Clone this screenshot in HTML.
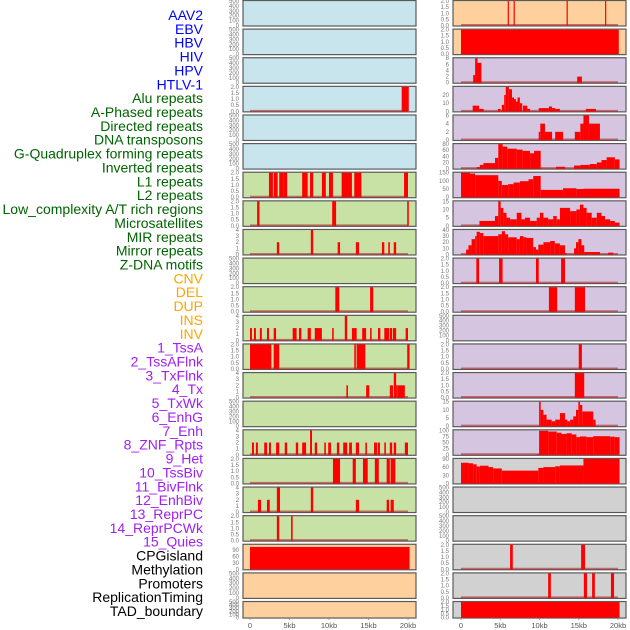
<!DOCTYPE html>
<html><head><meta charset="utf-8"><style>
html,body{margin:0;padding:0;background:#fff;width:630px;height:630px;overflow:hidden}
svg{display:block;font-family:"Liberation Sans",sans-serif}
</style></head><body>
<svg id="chart" width="630" height="630" viewBox="0 0 630 630" xmlns="http://www.w3.org/2000/svg"></svg>
<script>
// ---- labels ----
const labels=["AAV2","EBV","HBV","HIV","HPV","HTLV-1","Alu repeats","A-Phased repeats","Directed repeats","DNA transposons","G-Quadruplex forming repeats","Inverted repeats","L1 repeats","L2 repeats","Low_complexity A/T rich regions","Microsatellites","MIR repeats","Mirror repeats","Z-DNA motifs","CNV","DEL","DUP","INS","INV","1_TssA","2_TssAFlnk","3_TxFlnk","4_Tx","5_TxWk","6_EnhG","7_Enh","8_ZNF_Rpts","9_Het","10_TssBiv","11_BivFlnk","12_EnhBiv","13_ReprPC","14_ReprPCWk","15_Quies","CPGisland","Methylation","Promoters","ReplicationTiming","TAD_boundary"];
const labelGroups=[6,13,5,15,5];
const groupColors=["#0000ff","#006400","#ffa500","#a020f0","#000000"];
const xTicks=[0,5,10,15,20];
const xTickLabels=["0","5kb","10kb","15kb","20kb"];
// ---- left column tracks: [startKb,endKb,value] ----
const L0=[],L1=[],L2=[],L4=[],L5=[],L9=[],L14=[],L20=[],L21=[];
const L3=[[19.2,20.1,2]];
const L6=[[2.4,2.9,2],[3.0,3.5,2],[3.7,4.2,2],[4.2,4.7,2],[6.6,7.3,2],[7.6,8.0,2],[9.1,9.6,2],[10.0,10.5,2],[11.6,12.9,2],[13.2,14.1,2],[19.5,20.0,2]];
const L7=[[0.9,1.2,2],[10.4,10.9,2],[19.9,20.1,2]];
const L8=[[3.4,3.7,2],[7.7,8.0,4],[11.1,11.4,2],[13.4,13.8,2],[16.7,17.0,2],[17.5,17.7,2],[18.2,18.5,2]];
const L10=[[10.8,11.3,2],[15.2,15.6,2]];
const L11=[[0,0.25,2],[0.5,0.75,2],[1.25,1.5,2],[2.15,2.4,2],[3.0,3.3,2],[5.4,5.9,2],[6.2,6.5,2],[7.3,7.7,2],[8.2,9.1,2],[10.4,10.6,2],[12.0,12.3,4],[12.9,13.5,2],[14.2,14.7,2],[15.2,15.4,2],[16.2,16.5,2],[17.0,17.6,2],[17.7,18.0,2],[18.1,18.5,2],[19.7,20.0,2]];
const L12=[[0,2.7,2],[3.0,3.7,2],[13.2,13.4,2],[13.5,14.6,2],[19.9,20.2,2]];
const L13=[[12.2,12.4,2],[14.7,15.1,2],[17.7,18.1,2],[18.2,18.5,4],[18.5,18.7,2],[18.7,19.6,2]];
const L15=[[0.25,0.5,2],[0.75,1.0,2],[1.8,2.15,2],[2.4,2.65,2],[3.3,3.7,2],[4.4,4.7,2],[5.8,6.1,2],[6.6,7.1,2],[7.6,7.85,4],[8.2,8.5,2],[9.4,9.6,2],[9.9,10.25,2],[11.0,11.3,2],[11.8,12.3,2],[12.55,12.9,2],[13.4,13.8,2],[14.6,14.8,2],[15.7,16.1,2],[16.2,16.45,2],[17.0,17.2,2],[17.7,18.0,2],[18.2,18.5,2],[19.6,20.0,2]];
const L16=[[10.5,11.4,2],[13.0,13.4,2],[14.3,14.9,2],[15.8,16.3,2],[17.3,17.7,2],[17.8,18.4,2]];
const L17=[[1.0,1.4,2],[2.15,2.5,2],[3.4,3.8,4],[7.7,8.0,4],[13.4,13.8,2],[17.3,17.6,2],[17.8,18.2,2]];
const L18=[[3.4,3.7,2],[5.2,5.4,2]];
const L19=[[0,20.2,105]];
// ---- right column tracks ----
const R11=[],R17=[],R18=[];
const R0=[[5.95,6.1,2],[6.7,6.85,2],[13.45,13.6,2],[18.35,18.5,2]];
const R1=[[0,20.1,2]];
const R2=[[1.55,1.8,2.5],[1.8,2.1,8],[2.1,2.6,6.5],[14.8,15.4,2]];
const R3=[[1.49,2.3,7],[2.3,2.9,3],[4.7,5.05,3],[5.2,5.5,8],[5.5,5.7,20],[5.7,6.1,30],[6.1,6.5,27],[6.5,6.75,17],[6.75,7.0,15],[7.0,7.2,12],[7.2,7.5,17],[7.5,7.8,10],[7.9,8.45,7],[8.45,8.8,3],[9.9,10.3,4],[10.3,11.2,4],[11.2,11.6,6],[11.6,12.0,4],[12.0,12.6,3],[15.9,17.2,3]];
const R4=[[9.9,10.1,2],[10.1,10.7,4],[10.7,11.6,2],[12.0,13.0,2],[14.5,15.2,2],[15.2,15.6,4],[15.6,16.3,6],[16.3,17.7,4]];
const R5=[[2.0,2.4,5],[2.4,2.85,12],[2.85,4.33,18],[4.33,4.75,35],[4.75,5.3,80],[5.3,5.9,72],[5.9,7.1,65],[7.1,7.85,62],[7.85,8.8,58],[8.8,9.3,50],[9.3,10.15,58],[12.1,13.25,6],[14.4,15.2,10],[15.2,16.4,12],[16.4,17.3,15],[17.3,17.9,20],[17.9,18.55,28],[18.55,19.6,37],[19.6,20.2,30]];
const R6=[[0,1.15,150],[1.15,1.8,145],[1.8,4.75,135],[4.75,5.2,100],[5.2,6.0,75],[6.0,6.7,80],[6.7,7.5,90],[7.5,8.6,98],[8.6,9.2,110],[9.2,10.15,130],[10.15,13.0,45],[13.0,14.7,55],[14.7,15.6,50],[15.6,20.2,52]];
const R7=[[2.35,4.33,3],[4.33,4.75,6],[4.75,5.05,15],[5.05,5.4,11],[5.4,5.8,8],[5.8,6.25,5],[6.25,7.1,4],[7.1,7.7,8],[7.7,8.15,4],[8.15,8.8,5],[8.8,9.65,3],[9.65,10.05,5],[10.05,10.5,8],[10.5,11.1,5],[11.1,11.75,4],[11.75,12.2,6],[12.2,12.6,4],[12.6,13.9,11],[13.9,14.7,9],[14.7,15.15,10],[15.15,15.6,13],[15.6,16.0,11],[16.0,16.65,8],[16.65,17.3,5],[17.3,17.9,8],[17.9,18.35,6],[18.35,19.0,4],[19.0,19.6,3],[19.6,20.2,2]];
const R8=[[0.65,0.95,8],[0.95,1.35,15],[1.35,1.8,25],[1.8,2.0,30],[2.0,2.4,37],[2.4,2.85,35],[2.85,4.75,30],[4.75,5.2,33],[5.2,5.6,38],[5.6,6.0,33],[6.0,7.1,28],[7.1,7.5,25],[7.5,7.95,30],[7.95,8.35,28],[8.35,9.2,27],[9.2,9.55,12],[9.55,9.85,8],[9.85,10.5,16],[10.5,11.35,20],[11.35,11.95,22],[11.95,12.6,18],[12.6,13.25,15],[13.25,13.45,2],[14.4,14.65,10],[14.65,14.95,20],[14.95,15.35,25],[15.35,15.7,15],[15.7,17.7,4],[18.75,19.4,3]];
const R9=[[1.95,2.3,2],[4.85,5.3,2],[9.55,9.9,2],[12.75,13.25,2]];
const R10=[[11.2,12.25,2],[14.5,15.8,2]];
const R12=[[15.0,15.4,2]];
const R13=[[14.5,15.7,2]];
const R14=[[9.95,10.15,15],[10.15,10.5,10],[10.5,10.9,7],[10.9,11.55,4],[11.55,12.0,3],[12.0,12.6,4],[12.6,13.25,8],[13.25,13.55,4],[13.55,13.9,3],[13.9,14.3,4],[14.3,14.65,6],[14.65,14.95,10],[14.95,15.15,15],[15.15,15.45,13],[15.45,16.85,9],[16.85,17.15,4]];
const R15=[[9.7,9.95,3],[9.95,11.1,98],[11.1,12.2,95],[12.2,12.8,90],[12.8,13.45,85],[13.45,14.1,88],[14.1,14.7,83],[14.7,15.15,72],[15.15,16.0,75],[16.0,16.85,72],[16.85,19.0,76],[19.0,19.6,74],[19.6,20.2,72]];
const R16=[[0,0.95,76],[0.95,1.55,74],[1.55,2.0,70],[2.0,2.4,62],[2.4,3.5,65],[3.5,4.1,60],[4.1,5.2,55],[5.2,9.85,47],[9.85,10.5,57],[10.5,12.0,60],[12.0,12.6,63],[12.6,15.6,66],[15.6,20.2,90]];
const R19=[[6.25,6.6,2],[15.3,15.8,2]];
const R20=[[11.1,11.45,2],[15.65,16.05,2],[16.7,17.05,2],[19.1,19.5,2]];
const R21=[[0,20.2,2]];
// ---- per-row axis specs ----
const T500=[0,100,200,300,400,500],T2=[0,0.5,1,1.5,2],T4=[0,1,2,3,4];
const leftTracks=[L0,L1,L2,L3,L4,L5,L6,L7,L8,L9,L10,L11,L12,L13,L14,L15,L16,L17,L18,L19,L20,L21];
const leftMax=[500,500,500,2,500,500,2,2,4,500,2,4,2,4,500,4,2,4,2,115,500,500];
const leftTicks=[T500,T500,T500,T2,T500,T500,T2,T2,T4,T500,T2,T4,T2,T4,T500,T4,T2,T4,T2,[0,30,60,90],T500,T500];
const leftFill=["b","b","b","b","b","b","g","g","g","g","g","g","g","g","g","g","g","g","g","p","p","p"];
const rightTracks=[R0,R1,R2,R3,R4,R5,R6,R7,R8,R9,R10,R11,R12,R13,R14,R15,R16,R17,R18,R19,R20,R21];
const rightMax=[2,2,8,30,6,80,150,15,40,2,2,500,2,2,15,100,90,500,500,2,2,2];
const rightTicks=[T2,T2,[0,2,4,6,8],[0,10,20],[0,2,4,6],[0,20,40,60,80],[0,50,100,150],[0,5,10,15],[0,10,20,30,40],T2,T2,T500,T2,T2,[0,5,10,15],[0,25,50,75,100],[0,30,60,90],T500,T500,T2,T2,T2];
const rightFill=["p","p","l","l","l","l","l","l","l","l","l","l","l","l","l","l","k","k","k","k","k","k"];
const fills={b:"#c8e4ec",g:"#c8e1a5",p:"#fed09e",l:"#d5c5e1",k:"#d1d1d1"};

const NS="http://www.w3.org/2000/svg";
const svg=document.getElementById('chart');
function mk(tag,attrs,parent){const e=document.createElementNS(NS,tag);for(const k in attrs)e.setAttribute(k,attrs[k]);(parent||svg).appendChild(e);return e;}
function rowTop(i){return i*28.62;}
function rowH(i){return i===21?16.5:25.5;}

// labels
let li=0;
const pitch=(611-15)/(labels.length-1);
labelGroups.forEach((n,g)=>{for(let j=0;j<n;j++){
  const t=mk('text',{x:203,y:15+li*pitch+5,'text-anchor':'end','font-size':'14',fill:groupColors[g]});
  t.textContent=labels[li];
  
  
  li++;}});

function drawColumn(px0,px1,x0kb,x20kb,tracks,maxes,ticks,fillk,col){
  const xs=kb=>x0kb+(x20kb-x0kb)*kb/20;
  for(let i=0;i<22;i++){
    const top=rowTop(i),h=rowH(i),bot=top+h;
    const g=mk('g',{});
    
    
    const r=mk('rect',{x:px0,y:top+0.5,width:px1-px0,height:h,fill:fills[fillk[i]],stroke:'#5a5a5a','stroke-width':1.2},g);
    
    
    const ys=v=>bot-(h-1)*v/maxes[i];
    const tk=ticks[i];
    tk.forEach(v=>{
      const t=mk('text',{x:px0-4,y:ys(v)+2,'text-anchor':'end','font-size':'6',fill:'#777'},g);
      t.textContent=(maxes[i]===2)?v.toFixed(1):String(v);
      
      
    });
    const data=tracks[i];
    if(data.length){
      const bl=mk('line',{x1:xs(0),x2:xs(20),y1:bot-0.5,y2:bot-0.5,stroke:'rgba(170,40,40,0.6)','stroke-width':2},g);
      
      
    }
    data.forEach(d=>{
      const x=xs(d[0]),w=Math.max(xs(d[1])-x,1.2),y=ys(Math.min(d[2],maxes[i]));
      const b=mk('rect',{x:x,y:y,width:w,height:bot-y,fill:'#ff0000'},g);
      
      
    });
  }
  xTicks.forEach((v,k)=>{
    const x=xs(v);
    const tl=mk('line',{x1:x,x2:x,y1:618,y2:620,stroke:'#888','stroke-width':0.8});
    
    
    const t=mk('text',{x:x,y:628,'text-anchor':'middle','font-size':'7.5',fill:'#555'});
    t.textContent=xTickLabels[k];
    
    
  });
}
drawColumn(243,416,250,408,leftTracks,leftMax,leftTicks,leftFill,'left');
drawColumn(453,626,461,618,rightTracks,rightMax,rightTicks,rightFill,'right');
</script>
</body></html>
